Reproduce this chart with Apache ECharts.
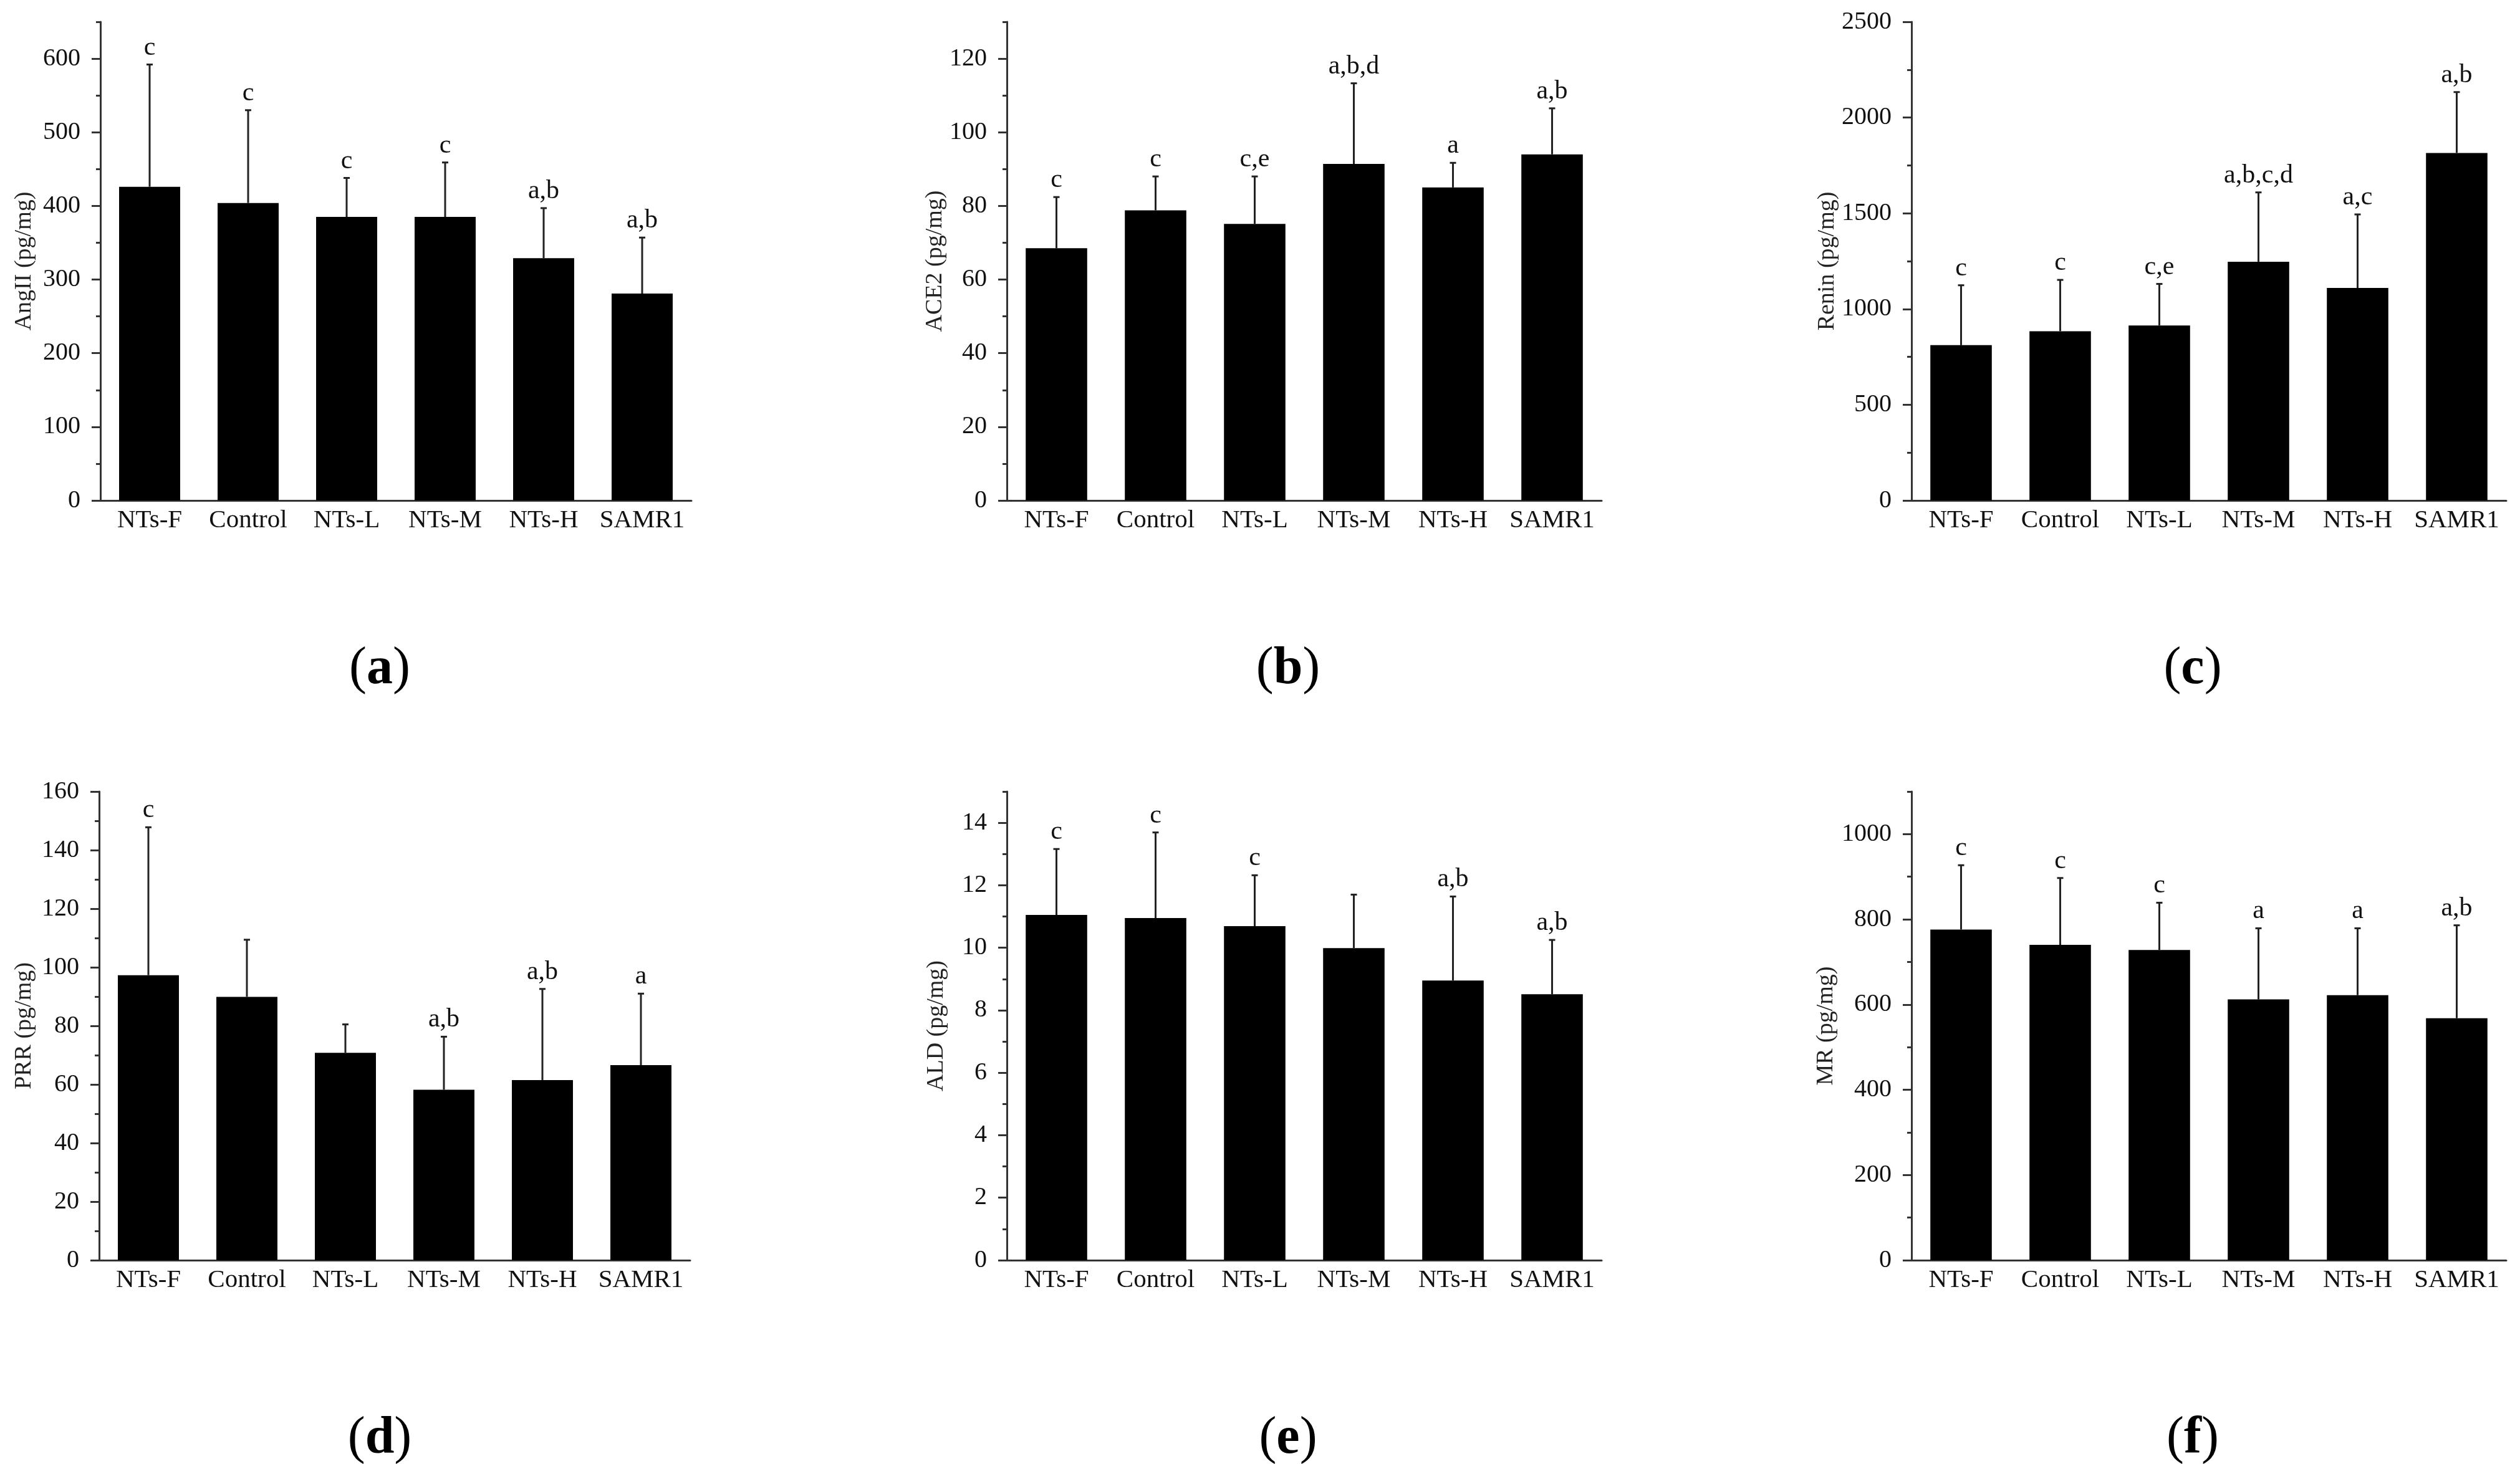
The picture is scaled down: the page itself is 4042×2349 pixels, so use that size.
<!DOCTYPE html>
<html>
<head>
<meta charset="utf-8">
<script src="https://cdn.jsdelivr.net/npm/echarts@6/dist/echarts.min.js"></script>
<style>
html,body{margin:0;padding:0;background:#fff;}
#chart{width:4042px;height:2349px;}
</style>
</head>
<body>
<div id="chart"></div>
<script>
// ---------- data ----------
const categories = ['NTs-F', 'Control', 'NTs-L', 'NTs-M', 'NTs-H', 'SAMR1'];

const angMean = [426, 404, 385, 385, 329, 281];
const angSD = [166, 126, 53, 74, 68, 76];
const angLetters = ['c', 'c', 'c', 'c', 'a,b', 'a,b'];

const aceMean = [68.5, 78.8, 75.1, 91.4, 85.0, 94.0];
const aceSD = [13.9, 9.2, 12.9, 21.9, 6.7, 12.5];
const aceLetters = ['c', 'c', 'c,e', 'a,b,d', 'a', 'a,b'];

const reninMean = [811, 884, 914, 1247, 1110, 1815];
const reninSD = [313, 268, 217, 362, 384, 318];
const reninLetters = ['c', 'c', 'c,e', 'a,b,c,d', 'a,c', 'a,b'];

const prrMean = [97.3, 89.9, 70.8, 58.2, 61.5, 66.6];
const prrSD = [50.5, 19.5, 9.7, 18.1, 31.1, 24.4];
const prrLetters = ['c', '', '', 'a,b', 'a,b', 'a'];

const aldMean = [11.05, 10.95, 10.69, 9.99, 8.95, 8.51];
const aldSD = [2.11, 2.74, 1.63, 1.71, 2.69, 1.74];
const aldLetters = ['c', 'c', 'c', '', 'a,b', 'a,b'];

const mrMean = [776, 740, 728, 612, 622, 568];
const mrSD = [151, 157, 111, 167, 157, 218];
const mrLetters = ['c', 'c', 'c', 'a', 'a', 'a,b'];

const axisNames = ['AngII (pg/mg)', 'ACE2 (pg/mg)', 'Renin (pg/mg)', 'PRR (pg/mg)', 'ALD (pg/mg)', 'MR (pg/mg)'];
const axisMax = [650, 130, 2500, 160, 15, 1100];
const majorStep = [100, 20, 500, 20, 2, 200];
const minorStep = [50, 10, 250, 10, 1, 100];
const panelTags = ['a', 'b', 'c', 'd', 'e', 'f'];

// ---------- layout ----------
const FONT = '"Liberation Serif", "Times New Roman", serif';
const panels = [
  {mean: angMean, sd: angSD, letters: angLetters},
  {mean: aceMean, sd: aceSD, letters: aceLetters},
  {mean: reninMean, sd: reninSD, letters: reninLetters},
  {mean: prrMean, sd: prrSD, letters: prrLetters},
  {mean: aldMean, sd: aldSD, letters: aldLetters},
  {mean: mrMean, sd: mrSD, letters: mrLetters}
];
const gridBoxes = [
  {left: 161, top: 35, width: 948, height: 768},
  {left: 1615, top: 35, width: 954, height: 768},
  {left: 3066, top: 35, width: 954, height: 768},
  {left: 159, top: 1270, width: 948, height: 752},
  {left: 1615, top: 1270, width: 954, height: 752},
  {left: 3066, top: 1270, width: 954, height: 752}
];
const nameGaps = [103, 96, 116, 101, 94, 118];
const tagPos = [[609, 1074], [2066, 1074], [3517, 1074], [609, 2309], [2066, 2309], [3517, 2309]];

const AX = '#333';
const grid = [], xAxis = [], yAxis = [], series = [], graphic = [];

function majors(i) {
  const v = [];
  for (let k = 0; k * majorStep[i] <= axisMax[i] + 1e-9; k++) v.push(+(k * majorStep[i]).toFixed(6));
  return v;
}

function errRender(letters) {
  return function (params, api) {
    const x = api.value(0), m = api.value(1), t = api.value(2);
    const p0 = api.coord([x, m]);
    const p1 = api.coord([x, t]);
    const ch = [
      {type: 'line', shape: {x1: p0[0], y1: p0[1], x2: p1[0], y2: p1[1]}, style: {stroke: '#222', lineWidth: 3}},
      {type: 'line', shape: {x1: p1[0] - 5, y1: p1[1], x2: p1[0] + 5, y2: p1[1]}, style: {stroke: '#222', lineWidth: 3}}
    ];
    const lt = letters[params.dataIndex];
    if (lt) {
      ch.push({type: 'text', x: p1[0], y: p1[1] - 6,
        style: {text: lt, fill: '#111', fontSize: 42, fontFamily: FONT, align: 'center', verticalAlign: 'bottom'}});
    }
    return {type: 'group', children: ch};
  };
}

panels.forEach((p, i) => {
  grid.push(Object.assign({containLabel: false}, gridBoxes[i]));
  xAxis.push({
    type: 'category', gridIndex: i, data: categories,
    axisLine: {show: true, lineStyle: {color: AX, width: 3}},
    axisTick: {show: false},
    axisLabel: {color: '#111', fontSize: 41, fontFamily: FONT, margin: 12, interval: 0},
    splitLine: {show: false}
  });
  const mj = majors(i);
  yAxis.push({
    type: 'value', gridIndex: i, min: 0, max: axisMax[i],
    name: axisNames[i], nameLocation: 'middle', nameGap: nameGaps[i],
    nameTextStyle: {color: '#222', fontSize: 38, fontFamily: FONT},
    axisLine: {show: true, lineStyle: {color: AX, width: 3}},
    axisTick: {show: true, inside: false, length: 14, lineStyle: {color: AX, width: 3}, customValues: mj},
    axisLabel: {show: true, color: '#111', fontSize: 40, fontFamily: FONT, margin: 32, customValues: mj,
      formatter: function (v) { return String(v); }},
    splitLine: {show: false}
  });
  yAxis.push({
    type: 'value', gridIndex: i, min: 0, max: axisMax[i], interval: minorStep[i],
    position: 'left',
    axisLine: {show: false},
    axisTick: {show: true, inside: false, length: 7, lineStyle: {color: AX, width: 3}},
    axisLabel: {show: false},
    splitLine: {show: false}
  });
  series.push({
    type: 'bar', xAxisIndex: i, yAxisIndex: 2 * i,
    data: p.mean, barCategoryGap: '38%',
    itemStyle: {color: '#000'}, z: 2, silent: true
  });
  series.push({
    type: 'custom', xAxisIndex: i, yAxisIndex: 2 * i,
    data: p.mean.map((m, j) => [j, m, m + p.sd[j]]),
    renderItem: errRender(p.letters), z: 3, silent: true
  });
  graphic.push({
    type: 'text', x: tagPos[i][0], y: tagPos[i][1],
    style: {
      text: '{p|(}{b|' + panelTags[i] + '}{p|)}',
      align: 'center', verticalAlign: 'middle',
      rich: {
        p: {fontSize: 84, fontFamily: FONT, fill: '#000', fontWeight: 'normal'},
        b: {fontSize: 84, fontFamily: FONT, fill: '#000', fontWeight: 'bold'}
      }
    }
  });
});

const chart = echarts.init(document.getElementById('chart'), null, {renderer: 'canvas'});
chart.setOption({
  backgroundColor: '#fff',
  animation: false,
  grid, xAxis, yAxis, series, graphic
});
</script>
</body>
</html>
